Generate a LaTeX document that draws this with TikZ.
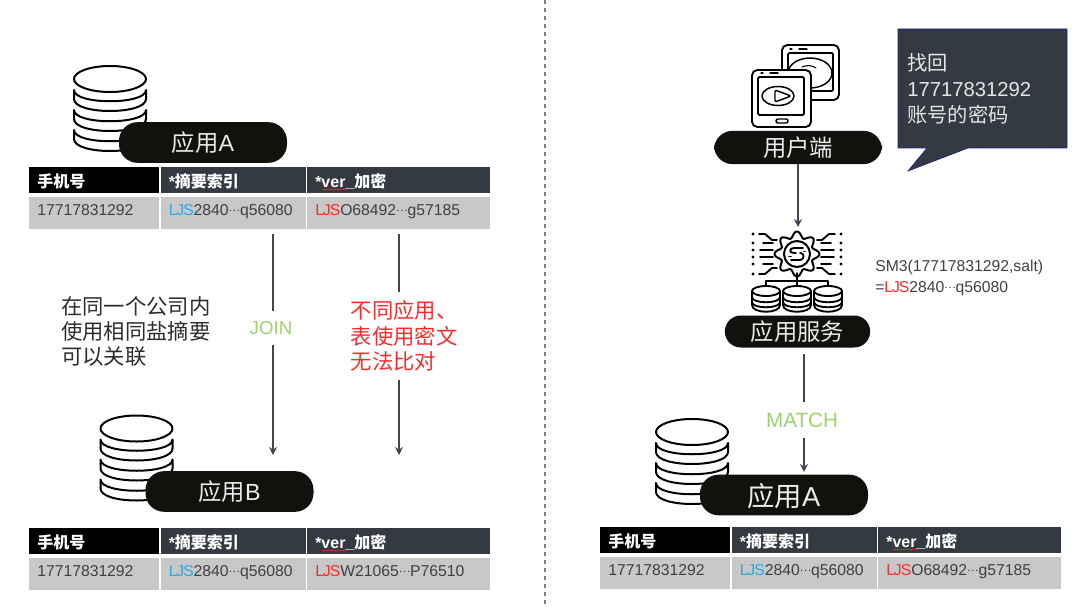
\documentclass[tikz,border=0pt]{standalone}
\usepackage{fontspec}
\setmainfont{Liberation Sans}
\newfontfamily\cjk{Noto Sans CJK SC}
\usetikzlibrary{arrows.meta,decorations.pathmorphing}

\definecolor{pillblack}{HTML}{12110D}
\definecolor{slatedark}{HTML}{333A42}
\definecolor{cellgray}{HTML}{C8C8C8}
\definecolor{celltext}{HTML}{404040}
\definecolor{linegray}{HTML}{3F4852}
\definecolor{saltblue}{HTML}{29ABE2}
\definecolor{saltred}{HTML}{FF2A2A}
\definecolor{matchgreen}{HTML}{9ED36A}

\tikzset{
    pill/.style={fill=pillblack, text=white!92!black, rounded corners=14pt, inner sep=0pt, minimum height=30.5pt, text height=16pt, text depth=2.2pt},
    headcell/.style={anchor=north west, fill=slatedark, text=white, inner xsep=6pt, inner ysep=0pt, minimum height=19.5pt, align=left, text height=12pt, text depth=0.5pt, font=\fontsize{12}{12}\selectfont\bfseries},
    rowcell/.style={anchor=north west, fill=cellgray, text=celltext, inner xsep=6pt, inner ysep=0pt, minimum height=24pt, align=left, text height=9pt, text depth=5pt, font=\fontsize{11.8}{12}\selectfont},
    flowline/.style={draw=linegray, line width=1.1pt},
    flowarrow/.style={flowline, -{Stealth[length=6pt,width=6pt]}},
    gaplabel/.style={inner sep=0pt, align=left},
    iconline/.style={draw=black, line width=1.4pt, line cap=round, line join=round},
    dbicon/.pic={
        \foreach \d in {0,20,40} {
            \draw[iconline, line width=1.5pt] (-36,11+\d) -- (-36,20+\d) .. controls (-36,36+\d) and (36,36+\d) .. (36,20+\d) -- (36,11+\d) .. controls (36,26+\d) and (-36,26+\d) .. cycle;
        }
        \draw[iconline, line width=1.5pt] (0,0) ellipse [x radius=36, y radius=13];
    },
    minidb/.pic={
        \draw[iconline, line width=1.4pt] (-14,0) -- (-14,14) .. controls (-14,23) and (14,23) .. (14,14) -- (14,0);
        \draw[iconline, line width=1.4pt] (-14,6) .. controls (-14,13) and (14,13) .. (14,6);
        \draw[iconline, line width=1.4pt] (-14,11) .. controls (-14,18) and (14,18) .. (14,11);
        \draw[iconline, line width=1.4pt] (0,0) ellipse [x radius=14, y radius=5];
    }
}

% Colored salt prefix and the small dots of a shortened value
\newcommand{\saltpre}[1]{\textcolor{#1}{L\kern-0.9pt J\kern-0.7pt S}}
\newcommand{\middots}{\raisebox{3pt}{\cjk\fontsize{8}{8}\selectfont …}}

% One table: name, shift, text of the last cell
\newcommand{\apptable}[3]{
    \begin{scope}[shift={#2}]
        \node[headcell, fill=black, text width=85.5pt] (#1phone) at (29,167) {{\cjk 手机号}};
        \node[headcell, text width=97.2pt] (#1hash) at (160.5,167) {*{\cjk 摘要索引}};
        \node[headcell, text width=125.25pt] (#1cipher) at (307,167) {*ver\_{\cjk 加密}};
        \node[rowcell, text width=85.5pt] (#1phoneval) at (29,197) {17717831292};
        \node[rowcell, text width=97.2pt] (#1hashval) at (160.5,197) {\saltpre{saltblue}2840\middots q56080};
        \node[rowcell, text width=125.25pt] (#1cipherval) at (307,197) {\saltpre{saltred}#3};
        \draw[saltred, line width=0.35pt, decorate, decoration={snake, amplitude=0.45pt, segment length=2pt}] (322,189.5) -- (347,189.5);
    \end{scope}
}

\begin{document}
\begin{tikzpicture}[x=0.75pt, y=-0.75pt]
    \useasboundingbox (0,0) rectangle (1080,606);

    % Draw the dashed divider
    \coordinate (divtop) at (545,0);
    \coordinate (divbot) at (545,606);
    \draw[gray, dashed, line width=0.9pt] (divtop) -- (divbot);

    % Draw the databases
    \pic at (110,79) {dbicon};
    \pic at (136.5,428.5) {dbicon};
    \pic at (692,432) {dbicon};

    % Place the application pills
    \node[pill, minimum width=126pt, font=\fontsize{17.5}{18}\selectfont] (appA) at (203,142.5) {{\cjk 应用}A};
    \node[pill, minimum width=126pt, font=\fontsize{17.5}{18}\selectfont] (appB) at (229.5,491.5) {{\cjk 应用}B};
    \node[pill, minimum width=126pt, text height=18pt, text depth=0.5pt, font=\fontsize{20.5}{21}\selectfont] (appC) at (784,495) {{\cjk 应用}A};
    \node[pill, minimum width=126pt, minimum height=25pt, font=\fontsize{17.5}{18}\cjk] (client) at (798,147.5) {用户端};
    \node[pill, minimum width=109pt, minimum height=24pt, rounded corners=12pt, font=\fontsize{17.5}{18}\cjk] (service) at (797.5,331.5) {应用服务};

    % Draw the tables
    \apptable{ta}{(0,0)}{O68492\middots g57185}
    \apptable{tb}{(0,361)}{W21065\middots P76510}
    \apptable{tc}{(571,360)}{O68492\middots g57185}

    % Define the free ends of the connectors
    \coordinate (jointop) at (273,234);
    \coordinate (joinend) at (273,455);
    \coordinate (difftop) at (399,234);
    \coordinate (diffend) at (399,455);
    \coordinate (clientend) at (798,227);
    \coordinate (matchtop) at (804,354);
    \coordinate (matchend) at (804,472);

    % Place the labels on the connectors
    \node[gaplabel, minimum height=25pt, text=matchgreen, font=\fontsize{14}{14}\selectfont] (joinlabel) at (271,328) {JOIN};
    \node[gaplabel, minimum height=65pt, text=saltred, font=\fontsize{16}{19}\cjk] (difflabel) at (404,336) {不同应用、\\表使用密文\\无法比对};
    \node[gaplabel, minimum height=26pt, text=matchgreen, font=\fontsize{15.5}{16}\selectfont] (matchlabel) at (802,420) {MATCH};

    % Draw the connectors
    \draw[flowline] (jointop) -- (jointop |- joinlabel.north);
    \draw[flowarrow] (jointop |- joinlabel.south) -- (joinend);
    \draw[flowline] (difftop) -- (difftop |- difflabel.north);
    \draw[flowarrow] (difftop |- difflabel.south) -- (diffend);
    \draw[flowarrow] (client) -- (clientend);
    \draw[flowline] (matchtop) -- (matchtop |- matchlabel.north);
    \draw[flowarrow] (matchtop |- matchlabel.south) -- (matchend);

    % Place the free texts
    \node[gaplabel, anchor=north west, text=celltext!70!black, font=\fontsize{16}{19}\cjk] (samesalt) at (61,296) {在同一个公司内\\使用相同盐摘要\\可以关联};
    \node[gaplabel, anchor=west, text=celltext, font=\fontsize{11.8}{15.8}\selectfont] (formula) at (875,277.5) {SM3(17717831292,salt)\\=\saltpre{saltred}2840\middots q56080};

    % Draw the speech bubble
    \draw[draw=blue!40!slatedark, fill=slatedark, line width=0.5pt] (898,29) -- (1067,29) -- (1067,148) -- (968,148) -- (908,171) -- (927,148) -- (898,148) -- cycle;
    \node[gaplabel, anchor=west, text=white!90!black, font=\fontsize{15.2}{19.5}\selectfont] (bubbletext) at (907,89) {{\cjk 找回}\\17717831292\\{\cjk 账号的密码}};

    % Draw the back tablet
    \draw[iconline, rounded corners=4pt] (782,45) rectangle (839,100);
    \draw[iconline, rounded corners=1pt] (788,53) rectangle (833,91);
    \draw[iconline, line width=0.9pt] (790,49) -- (792,49) (799,49) -- (807,49);
    \draw[iconline, line width=1.1pt] (810,73) ellipse [x radius=22, y radius=15];
    \draw[iconline, line width=0.8pt] (802,67) .. controls (806,65) and (812,65) .. (816,68);
    % Draw the front tablet
    \draw[iconline, fill=white, rounded corners=4pt] (752,70) rectangle (811,127);
    \draw[iconline, rounded corners=1pt] (758,77) rectangle (804,115);
    \draw[iconline, line width=0.9pt] (761,73) -- (763,73) (770,73) -- (778,73);
    \draw[iconline, line width=1.1pt] (778,96) ellipse [x radius=16, y radius=9.5];
    \draw[iconline, line width=1.1pt, rounded corners=1pt] (775,90) -- (791,96) -- (775,102) -- cycle;
    \draw[iconline, line width=1.1pt, rounded corners=1.5pt] (776,119) rectangle (788,123);

    % Draw the gear and its circuit lines
    \begin{scope}[shift={(797,254)}]
        \draw[iconline, line width=1.5pt, samples=96, domain=0:360, smooth] plot ({(19.5+3*cos(8*\x))*cos(\x)}, {(19.5+3*cos(8*\x))*sin(\x)}) -- cycle;
        \draw[iconline, line width=1.5pt] (0,0) circle [radius=13];
        \draw[iconline, line width=1.4pt] (6,-6) -- (-3,-6) .. controls (-8,-6) and (-8,-1) .. (-3,-1) -- (-1,-1) (3,-1) -- (4,-1) .. controls (8,0) and (7,6) .. (3,6) -- (-6,6);
        \draw[iconline, line width=1.4pt] (-8,2.5) -- (-6,2.5) (7,-2.5) -- (8,-2.5);
        \foreach \s in {1,-1} {
            \begin{scope}[xscale=\s]
                \draw[iconline] (-38,-20) -- (-32,-20) -- (-25,-14) -- (-20,-14);
                \draw[iconline] (-34,-11) -- (-24,-11);
                \draw[iconline] (-37,-4) -- (-24,-4);
                \draw[iconline] (-37,3) -- (-24,3);
                \draw[iconline] (-34,10) -- (-24,10);
                \draw[iconline] (-38,20) -- (-32,20) -- (-25,14) -- (-20,14);
                \foreach \dy in {-20,-11,-4,3,10,20} {
                    \fill (-44,\dy) circle [radius=1.6];
                }
            \end{scope}
        }
    \end{scope}
    \draw[iconline] (797,273) -- (797,286) (766,286) -- (766,281) -- (828,281) -- (828,286);
    \pic at (766,291) {minidb};
    \pic at (797,291) {minidb};
    \pic at (828,291) {minidb};
\end{tikzpicture}
\end{document}
